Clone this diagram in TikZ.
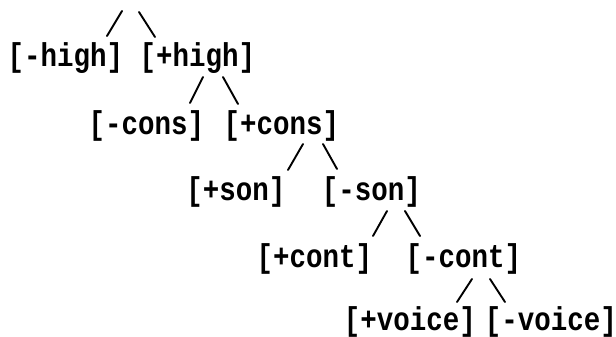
\documentclass[tikz,border=0pt]{standalone}
\usepackage{fontspec}
\usepackage{graphicx}
\newfontfamily\typer{Liberation Mono}
% typewriter-like label, slightly taller than the plain face
\newcommand\typed[1]{\scalebox{1}[1.2]{#1}}
\begin{document}
\begin{tikzpicture}[x=1pt,y=-1pt,
  feat/.style={inner sep=0pt,anchor=center,
    font=\typer\bfseries\fontsize{27.5}{30}\selectfont},
  branch/.style={line width=1.9pt,line cap=round}]
\useasboundingbox (0,0) rectangle (616,337);
% feature values, one row per level
\node[feat] (mhigh)  at (65.5,58)  {\typed{[-high]}};
\node[feat] (phigh)  at (197.5,58) {\typed{[+high]}};
\node[feat] (mcons)  at (146.5,126) {\typed{[-cons]}};
\node[feat] (pcons)  at (281.5,126) {\typed{[+cons]}};
\node[feat] (pson)   at (236,192) {\typed{[+son]}};
\node[feat] (mson)   at (371.5,192) {\typed{[-son]}};
\node[feat] (pcont)  at (314.5,259) {\typed{[+cont]}};
\node[feat] (mcont)  at (463.5,259) {\typed{[-cont]}};
\node[feat] (pvoice) at (410,322)  {\typed{[+voice]}};
\node[feat] (mvoice) at (551,322)  {\typed{[-voice]}};
% branch end points
\coordinate (a1) at (122,11);  \coordinate (a2) at (107,36);
\coordinate (b1) at (139,12);  \coordinate (b2) at (155,37);
\coordinate (c1) at (203,77);  \coordinate (c2) at (190,103);
\coordinate (d1) at (223,77);  \coordinate (d2) at (238,104);
\coordinate (e1) at (303,144); \coordinate (e2) at (288,170);
\coordinate (f1) at (323,144); \coordinate (f2) at (337,169);
\coordinate (g1) at (387,211); \coordinate (g2) at (373,236);
\coordinate (h1) at (405,211); \coordinate (h2) at (420,236);
\coordinate (i1) at (472,279); \coordinate (i2) at (457,302);
\coordinate (j1) at (490,279); \coordinate (j2) at (505,302);
\draw[branch] (a1) -- (a2);
\draw[branch] (b1) -- (b2);
\draw[branch] (c1) -- (c2);
\draw[branch] (d1) -- (d2);
\draw[branch] (e1) -- (e2);
\draw[branch] (f1) -- (f2);
\draw[branch] (g1) -- (g2);
\draw[branch] (h1) -- (h2);
\draw[branch] (i1) -- (i2);
\draw[branch] (j1) -- (j2);
\end{tikzpicture}
\end{document}
